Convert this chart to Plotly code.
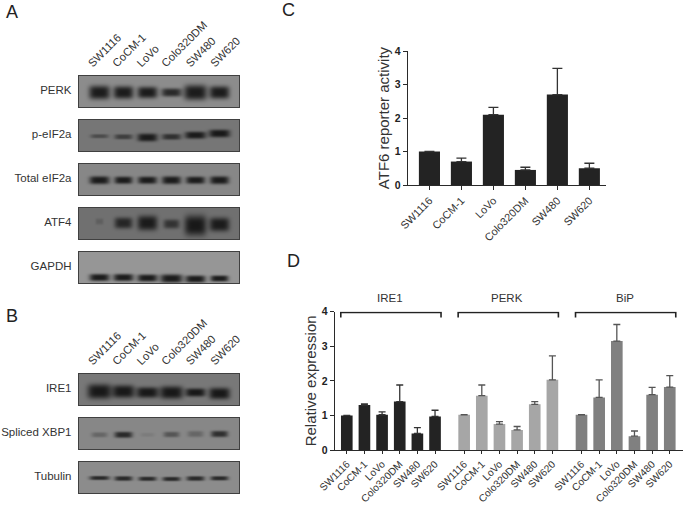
import numpy as np
import plotly.graph_objects as go

W, H = 685, 506
FONT = "Liberation Sans"
TXT = "#333333"

cell_lines = ["SW1116", "CoCM-1", "LoVo", "Colo320DM", "SW480", "SW620"]

# ---- panel C
atf6_values = [1.0, 0.70, 2.10, 0.45, 2.70, 0.50]
atf6_errors = [None, 0.10, 0.22, 0.08, 0.78, 0.15]

# ---- panel D
ire1_values = [1.0, 1.30, 1.02, 1.40, 0.48, 0.97]
ire1_errors = [None, 0.03, 0.08, 0.48, 0.17, 0.18]
perk_values = [1.02, 1.57, 0.75, 0.58, 1.32, 2.03]
perk_errors = [None, 0.31, 0.07, 0.10, 0.08, 0.69]
bip_values = [1.02, 1.52, 3.15, 0.40, 1.60, 1.82]
bip_errors = [None, 0.51, 0.48, 0.15, 0.21, 0.33]
group_names = ["IRE1", "PERK", "BiP"]
group_colors = ["#232323", "#a6a6a6", "#808080"]

# ---- blots: band strength per lane, half width, half thickness, height in the panel
perk_blot = dict(name="PERK", bg=140, s=[.97, .97, .97, .85, .97, .97], w=[10.5, 10, 10, 10, 11.5, 10],
                 t=[6.3, 5.8, 5.2, 3.6, 7, 5.8], y=[16, 16, 16, 16, 16, 16])
peif_blot = dict(name="p-eIF2a", bg=118, s=[.45, .6, .97, .75, .97, 1], w=[9, 9, 10, 9.5, 10.5, 10.5],
                 t=[1.5, 2, 3.4, 2.4, 3, 3.3], y=[15.7, 16.3, 17, 16.3, 14.7, 13])
teif_blot = dict(name="Total eIF2a", bg=135, s=[.97, .97, .97, .97, .97, .97], w=[10, 9, 9.5, 9.5, 9.5, 9.5],
                 t=[3.4, 3.1, 3.1, 3.4, 3.1, 3.4], y=[15.7, 15.7, 15.7, 15.7, 15.7, 15.7])
atf4_blot = dict(name="ATF4", bg=112, s=[.2, .85, .97, .7, 1, .97], w=[4, 9, 10, 8, 11, 10],
                 t=[2.5, 5, 6.8, 4, 9.5, 6.3], y=[13, 14.5, 14.5, 15.5, 17, 16])
gapdh_blot = dict(name="GAPDH", bg=150, s=[.97, .97, .97, .97, .97, .97], w=[10, 10, 10, 11, 10, 9],
                  t=[3, 3, 3, 3.6, 3, 2.5], y=[25, 25, 25.5, 26, 26.5, 26])
ire1_blot = dict(name="IRE1", bg=120, s=[1, 1, 1, 1, 1, 1], w=[12, 11, 11, 11.5, 10, 10.5],
                 t=[6.8, 5.8, 4.8, 5.8, 3.6, 5.2], y=[17, 17, 18, 18, 18, 19])
xbp1_blot = dict(name="Spliced XBP1", bg=135, s=[.3, .85, .1, .45, .3, .8], w=[8, 9, 7, 8, 8, 8.5],
                 t=[2, 2.5, 1.5, 2.2, 2.5, 2.6], y=[16.3, 16.3, 16.3, 16, 15.5, 15.5])
tub_blot = dict(name="Tubulin", bg=140, s=[.85, .85, .85, .85, .85, .85], w=[10, 9, 9, 9, 9, 9],
                t=[1.5, 1.8, 1.6, 1.6, 1.8, 1.6], y=[15.5, 16, 16.3, 16.5, 16, 15.8])

panel_a = [perk_blot, peif_blot, teif_blot, atf4_blot, gapdh_blot]
panel_b = [ire1_blot, xbp1_blot, tub_blot]
tops_a = [76, 120, 164, 208, 252]
tops_b = [374, 418, 462]

BLOT_L, BLOT_R, BLOT_H = 79, 239, 31
LANE_PX = 24.0
LANE0_PX = 20.0


def xdom(a, b):
    return [a / W, b / W]


def ydom(top, bottom):
    return [1 - bottom / H, 1 - top / H]


fig = go.Figure()
layout = {}
n = 0


def blot_image(b):
    xs = (np.arange(0, BLOT_R - BLOT_L + 1) - LANE0_PX) / LANE_PX
    ys = np.arange(0, BLOT_H + 1, 1.0)
    X, Y = np.meshgrid(xs * LANE_PX, ys)
    z = np.full(X.shape, float(b["bg"]))
    for i in range(6):
        dx = np.abs(X - i * LANE_PX) / b["w"][i]
        dy = np.abs(Y - b["y"][i]) / (b["t"][i] + 0.6)
        z -= (b["bg"] - 24) * b["s"][i] * np.exp(-dx ** 4 - dy ** 3)
    return xs, ys, np.clip(z, 20, 255)


for blots, tops in ((panel_a, tops_a), (panel_b, tops_b)):
    for k, (b, top) in enumerate(zip(blots, tops)):
        n += 1
        xs, ys, z = blot_image(b)
        fig.add_trace(go.Heatmap(x=xs, y=ys, z=z, zmin=0, zmax=255, zsmooth="best", showscale=False,
                                 colorscale=[[0, "#000000"], [1, "#ffffff"]], hoverinfo="skip",
                                 xaxis=f"x{n}", yaxis=f"y{n}"))
        x0 = -LANE0_PX / LANE_PX
        xa = dict(domain=xdom(BLOT_L, BLOT_R), range=[x0, x0 + (BLOT_R - BLOT_L) / LANE_PX], anchor=f"y{n}",
                  showgrid=False, zeroline=False, showline=True, mirror=True, linecolor="#404040", linewidth=1.4,
                  ticks="", showticklabels=False, automargin=False)
        if k == 0:
            xa.update(side="top", showticklabels=True, tickmode="array",
                      tickvals=[i * 1.02 - 0.43 for i in range(6)], ticktext=cell_lines, tickangle=-45,
                      tickfont=dict(family=FONT, size=11.2, color=TXT), ticks="outside", ticklen=1,
                      tickcolor="rgba(0,0,0,0)")
        layout[f"xaxis{n}"] = xa
        layout[f"yaxis{n}"] = dict(domain=ydom(top, top + BLOT_H), range=[BLOT_H, 0], anchor=f"x{n}",
                                   showgrid=False, zeroline=False, showline=True, mirror=True, automargin=False,
                                   linecolor="#404040", linewidth=1.4, tickmode="array",
                                   tickvals=[BLOT_H / 2 - 2], ticktext=[b["name"]], ticks="outside", ticklen=4,
                                   tickcolor="rgba(0,0,0,0)",
                                   tickfont=dict(family=FONT, size=11.5, color=TXT))

AXIS = dict(showgrid=False, zeroline=False, showline=True, linecolor="#2a2a2a", linewidth=1.4,
            ticks="outside", tickcolor="#2a2a2a", tickwidth=1.3, automargin=False)

# ---- C
n += 1
cx = list(range(6))
fig.add_trace(go.Bar(x=cx, y=atf6_values, width=0.66, marker=dict(color="#232323", line_width=0),
                     error_y=dict(type="data", symmetric=False, array=atf6_errors,
                                  arrayminus=[None] + [0] * 5,
                                  color="#333333", thickness=1.3, width=5),
                     xaxis=f"x{n}", yaxis=f"y{n}", hoverinfo="skip"))
layout[f"xaxis{n}"] = dict(AXIS, domain=xdom(408, 606), range=[-0.67, 5.52], anchor=f"y{n}", tickmode="array",
                           tickvals=cx, ticktext=cell_lines, tickangle=-45, ticklen=4,
                           tickfont=dict(family=FONT, size=10.8, color=TXT))
layout[f"yaxis{n}"] = dict(AXIS, domain=ydom(51, 185), range=[0, 4], anchor=f"x{n}", tickvals=[0, 1, 2, 3, 4],
                           ticklen=4, tickfont=dict(family=FONT, size=10.5, color="#222222", weight="bold"),
                           title=dict(text="ATF6 reporter activity", standoff=1,
                                      font=dict(family=FONT, size=15, color=TXT)))

# ---- D
n += 1
step = 6.65
series = [(ire1_values, ire1_errors), (perk_values, perk_errors), (bip_values, bip_errors)]
tv, tt = [], []
annotations = []
for g, ((vals, errs), col, name) in enumerate(zip(series, group_colors, group_names)):
    xg = [g * step + i for i in range(6)]
    tv += xg
    tt += cell_lines
    fig.add_trace(go.Bar(x=xg, y=vals, width=0.66, marker=dict(color=col, line_width=0),
                         error_y=dict(type="data", symmetric=False, array=errs, arrayminus=[None] + [0] * 5,
                                      color="#333333" if g == 0 else "#555555", thickness=1.3, width=3.5),
                         xaxis=f"x{n}", yaxis=f"y{n}", hoverinfo="skip"))
    fig.add_trace(go.Scatter(x=[xg[0] - 0.34, xg[0] - 0.34, xg[-1] + 0.34, xg[-1] + 0.34], y=[3.83, 3.98, 3.98, 3.83],
                             mode="lines", line=dict(color="#222222", width=1.6), xaxis=f"x{n}", yaxis=f"y{n}",
                             hoverinfo="skip", cliponaxis=False))
    annotations.append(dict(x=xg[0] + 2.45, xref=f"x{n}", y=1 - 298 / H, yref="paper", yanchor="middle",
                            xanchor="center", text=name, showarrow=False,
                            font=dict(family=FONT, size=11.5, color=TXT)))
layout[f"xaxis{n}"] = dict(AXIS, domain=xdom(335, 683), range=[-0.668, 19.05], anchor=f"y{n}", tickmode="array",
                           tickvals=tv, ticktext=tt, tickangle=-45, ticklen=3,
                           tickfont=dict(family=FONT, size=10.2, color=TXT))
layout[f"yaxis{n}"] = dict(AXIS, domain=ydom(311.7, 450), range=[0, 4], anchor=f"x{n}", tickvals=[0, 1, 2, 3, 4],
                           ticklen=4, tickfont=dict(family=FONT, size=10.5, color="#222222", weight="bold"),
                           title=dict(text="Relative expression", standoff=1,
                                      font=dict(family=FONT, size=15, color=TXT)))

for letter, px, py in (("A", 12.5, 12.5), ("B", 12.5, 316), ("C", 288, 10), ("D", 293, 261)):
    annotations.append(dict(x=px / W, y=1 - py / H, xref="paper", yref="paper", xanchor="center", yanchor="middle",
                            text=letter, showarrow=False, font=dict(family=FONT, size=18, color="#222222")))

fig.update_layout(width=W, height=H, margin=dict(l=0, r=0, t=0, b=0), showlegend=False, template="none",
                  paper_bgcolor="white", plot_bgcolor="white", annotations=annotations, **layout)
fig.write_html("out.html", post_script="document.body.style.margin='0';", config=dict(displayModeBar=False))
